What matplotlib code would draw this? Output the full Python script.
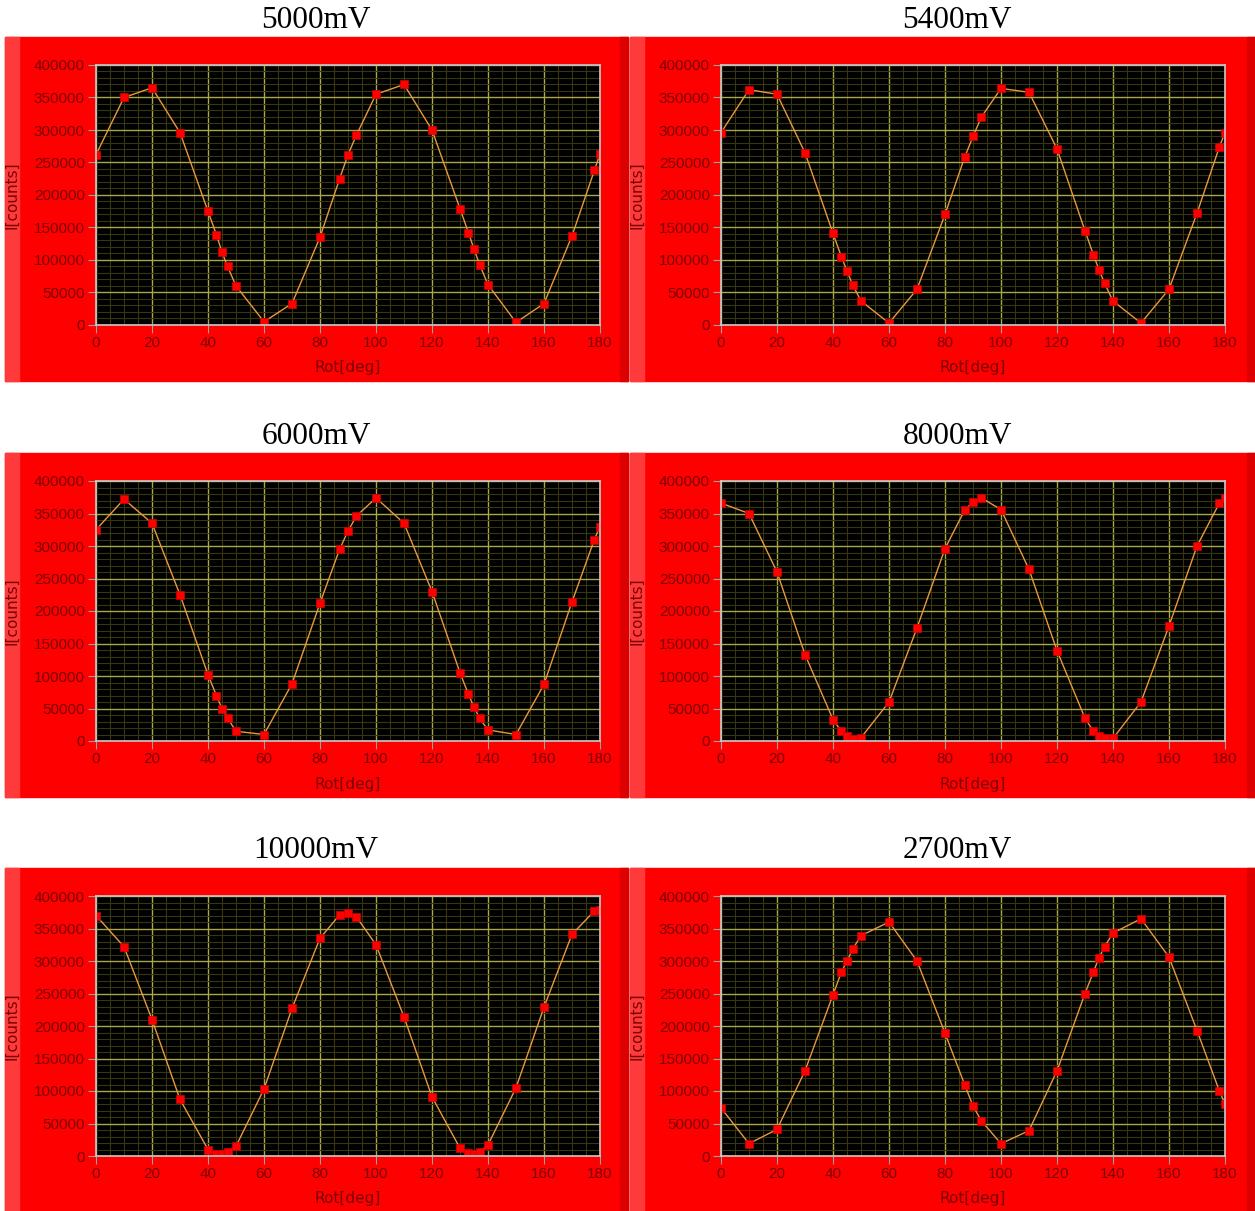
import matplotlib.pyplot as plt
from matplotlib.patches import Rectangle
from matplotlib.ticker import MultipleLocator

# tamaño de la imagen en pixeles
W, H = 1255, 1211

# angulos medidos (iguales para todas las series)
rot_deg = [0, 10, 20, 30, 40, 43, 45, 47, 50, 60, 70, 80, 87, 90, 93,
           100, 110, 120, 130, 133, 135, 137, 140, 150, 160, 170, 178, 180]

# intensidad [counts] para cada voltaje
i_5000 = [262000, 350000, 365000, 296000, 175000, 139000, 112000, 90000, 60000, 5000,
          33000, 135000, 225000, 262000, 292000, 355000, 370000, 300000, 179000, 142000,
          117000, 93000, 62000, 4000, 33000, 137000, 238000, 263000]
i_5400 = [296000, 362000, 355000, 265000, 141000, 105000, 83000, 62000, 37000, 3000,
          55000, 170000, 258000, 290000, 320000, 364000, 358000, 271000, 145000, 108000,
          85000, 64000, 37000, 3000, 55000, 172000, 274000, 296000]
i_6000 = [325000, 372000, 335000, 225000, 102000, 70000, 50000, 35000, 15000, 10000,
          88000, 212000, 295000, 323000, 346000, 374000, 335000, 230000, 105000, 72000,
          52000, 35000, 17000, 10000, 87000, 214000, 310000, 330000]
i_8000 = [366000, 350000, 260000, 133000, 33000, 15000, 8000, 3000, 5000, 60000,
          174000, 296000, 355000, 368000, 374000, 356000, 264000, 139000, 35000, 15000,
          8000, 4000, 4000, 60000, 177000, 300000, 366000, 374000]
i_10000 = [370000, 322000, 210000, 87000, 10000, 3000, 3000, 6000, 15000, 103000,
           227000, 335000, 371000, 374000, 368000, 325000, 214000, 91000, 12000, 4000,
           3000, 6000, 17000, 105000, 229000, 341000, 377000, 378000]
i_2700 = [74000, 19000, 41000, 131000, 248000, 283000, 300000, 318000, 339000, 360000,
          300000, 189000, 110000, 77000, 54000, 19000, 39000, 131000, 250000, 283000,
          305000, 322000, 343000, 365000, 306000, 193000, 100000, 80000]

titulos = ['5000mV', '5400mV', '6000mV', '8000mV', '10000mV', '2700mV']
series = [i_5000, i_5400, i_6000, i_8000, i_10000, i_2700]


def caja(x, y, w, h):
    # pixeles (origen arriba a la izquierda) -> fraccion de figura
    return [x / W, 1 - (y + h) / H, w / W, h / H]


fig = plt.figure(figsize=(W / 100, H / 100), dpi=100, facecolor='white')

col_x = [5, 630]
col_w = [623, 625]
fila_y = [37, 453, 868]
fila_h = [344, 344, 343]
titulo_x = [316, 957]

color_txt = '#7a0000'
fuente = 'Liberation Sans'

for k in range(6):
    fila, col = k // 2, k % 2
    px, py = col_x[col], fila_y[fila]
    pw, ph = col_w[col], fila_h[fila]

    # fondo rojo del panel
    fig.add_artist(Rectangle(caja(px, py, pw, ph)[:2], pw / W, ph / H,
                             transform=fig.transFigure, color='#ff0000', zorder=-5))
    fig.add_artist(Rectangle(caja(px, py, 14, ph)[:2], 14 / W, ph / H,
                             transform=fig.transFigure, color='#ff3a3a', zorder=-4))
    fig.add_artist(Rectangle(caja(px + pw - 8, py, 8, ph)[:2], 8 / W, ph / H,
                             transform=fig.transFigure, color='#dd0000', zorder=-4))

    # titulo
    fig.text(titulo_x[col] / W, 1 - (py - 17) / H, titulos[k], ha='center', va='center',
             fontsize=22.5, family='Liberation Serif', color='black')

    ax = fig.add_axes(caja(px + 91, py + 28, 504, 260))
    ax.set_facecolor('black')
    ax.plot(rot_deg, series[k], color='#e89a3c', lw=1, marker='s', ms=6,
            mfc='#ff0000', mec='#d00000', mew=0.5)

    ax.set_xlim(0, 180)
    ax.set_ylim(0, 400000)
    ax.xaxis.set_major_locator(MultipleLocator(20))
    ax.xaxis.set_minor_locator(MultipleLocator(5))
    ax.yaxis.set_major_locator(MultipleLocator(50000))
    ax.yaxis.set_minor_locator(MultipleLocator(10000))
    ax.set_axisbelow(True)
    ax.grid(which='minor', color='#36360f', lw=0.8)
    ax.grid(which='major', color='#a8a848', lw=1)
    ax.tick_params(which='minor', length=0)
    ax.tick_params(which='major', direction='out', length=6, color='#a0a0a0',
                   labelcolor=color_txt, labelsize=11, pad=2)
    for lab in ax.get_xticklabels() + ax.get_yticklabels():
        lab.set_family(fuente)
    for s in ax.spines.values():
        s.set_color('#c8c8c8')
        s.set_linewidth(1.2)

    # nombres de los ejes
    fig.text((px + 91 + 252) / W, 1 - (py + 331) / H, 'Rot[deg]', ha='center', va='center',
             fontsize=11, family='DejaVu Sans', color=color_txt)
    fig.text((px + 7) / W, 1 - (py + 158) / H, 'I[counts]', ha='center', va='center',
             rotation=90, fontsize=11, family='DejaVu Sans', color=color_txt)

plt.savefig('out.png', dpi=100)
